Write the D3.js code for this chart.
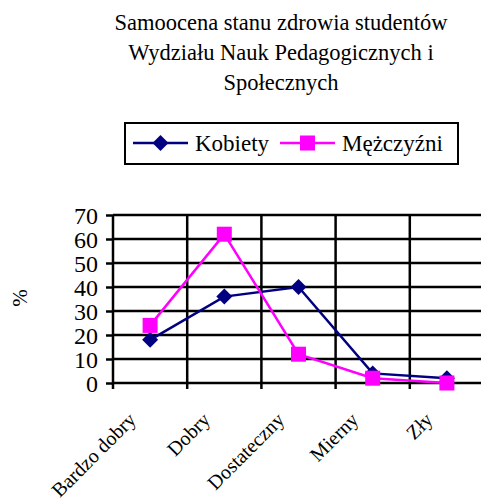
<!DOCTYPE html>
<html>
<head>
<meta charset="utf-8">
<script src="https://cdn.jsdelivr.net/npm/d3@7"></script>
<style>
  html, body { margin: 0; padding: 0; background: #fff; }
  svg text { font-family: "Liberation Serif", "Times New Roman", serif; }
</style>
</head>
<body>
<div id="chart"></div>
<script>
// data
var categories = ["Bardzo dobry", "Dobry", "Dostateczny", "Mierny", "Zły"];
var kobiety = [18, 36, 40, 4, 2];
var mezczyzni = [24, 62, 12, 2, 0];
var yTicks = [0, 10, 20, 30, 40, 50, 60, 70];
var titleLines = ["Samoocena stanu zdrowia studentów", "Wydziału Nauk Pedagogicznych i", "Społecznych"];

var series = [
    { name: "Kobiety", values: kobiety, color: "#000080", marker: "diamond" },
    { name: "Mężczyźni", values: mezczyzni, color: "#FF00FF", marker: "square" }
];

var W = 481, H = 501;
var plot = { left: 113, right: 484, top: 215, bottom: 383 };
var serif = "'Liberation Serif', 'Times New Roman', serif";

var svg = d3.select("#chart")
    .append("svg")
    .attr("width", W)
    .attr("height", H)
    .attr("font-family", serif);

var x = d3.scaleBand()
    .domain(categories)
    .range([plot.left, plot.right]);

var y = d3.scaleLinear()
    .domain([0, 70])
    .range([plot.bottom, plot.top]);

// title
svg.append("g")
    .selectAll("text")
    .data(titleLines)
    .enter().append("text")
    .attr("x", 281)
    .attr("y", (d, i) => 30 + i * 30)
    .attr("text-anchor", "middle")
    .attr("font-size", 22.5)
    .text(d => d);

// grid
var grid = svg.append("g").attr("stroke", "#000").attr("stroke-width", 2.5);
grid.selectAll("line.h")
    .data(yTicks)
    .enter().append("line")
    .attr("class", "h")
    .attr("x1", plot.left)
    .attr("x2", plot.right)
    .attr("y1", d => y(d))
    .attr("y2", d => y(d));

grid.selectAll("line.v")
    .data(categories)
    .enter().append("line")
    .attr("class", "v")
    .attr("x1", d => x(d))
    .attr("x2", d => x(d))
    .attr("y1", plot.top)
    .attr("y2", plot.bottom + 6);

// y axis
var yAxis = svg.append("g")
    .attr("transform", `translate(${plot.left},0)`)
    .call(d3.axisLeft(y).tickValues(yTicks).tickSize(7).tickPadding(8));
yAxis.attr("font-family", serif).attr("font-size", 24);
yAxis.select(".domain").remove();
yAxis.selectAll("line").attr("stroke", "#000").attr("stroke-width", 2.5);
yAxis.selectAll("text")
    .attr("fill", "#000")
    .attr("dy", "0.34em");

// x labels
svg.append("g")
    .selectAll("text")
    .data(categories)
    .enter().append("text")
    .attr("text-anchor", "end")
    .attr("font-size", 20)
    .attr("transform", d => `translate(${x(d) + x.bandwidth() / 2 - 13},${plot.bottom + 38}) rotate(-45)`)
    .text(d => d);

// y title
svg.append("text")
    .attr("transform", "translate(27,298) rotate(-90)")
    .attr("text-anchor", "middle")
    .attr("font-size", 21)
    .text("%");

// lines + markers
var line = d3.line()
    .x((d, i) => x(categories[i]) + x.bandwidth() / 2)
    .y(d => y(d));

function marker(g, type, color, cx, cy) {
    if (type === "diamond") {
        g.append("path")
            .attr("d", `M${cx},${cy - 8}L${cx + 8},${cy}L${cx},${cy + 8}L${cx - 8},${cy}Z`)
            .attr("fill", color);
    } else {
        g.append("rect")
            .attr("x", cx - 7.5).attr("y", cy - 7.5)
            .attr("width", 15).attr("height", 15)
            .attr("fill", color);
    }
}

series.forEach(function (s) {
    var g = svg.append("g");
    g.append("path")
        .datum(s.values)
        .attr("fill", "none")
        .attr("stroke", s.color)
        .attr("stroke-width", 2.5)
        .attr("d", line);
    s.values.forEach(function (v, i) {
        marker(g, s.marker, s.color, x(categories[i]) + x.bandwidth() / 2, y(v));
    });
});

// legend
var legend = svg.append("g");
legend.append("rect")
    .attr("x", 125).attr("y", 123)
    .attr("width", 333).attr("height", 41)
    .attr("fill", "#fff")
    .attr("stroke", "#000")
    .attr("stroke-width", 2);

var legendX = [133, 280];
series.forEach(function (s, i) {
    var lg = legend.append("g");
    var lx = legendX[i];
    lg.append("line")
        .attr("x1", lx).attr("x2", lx + 55)
        .attr("y1", 143).attr("y2", 143)
        .attr("stroke", s.color)
        .attr("stroke-width", 2.5);
    marker(lg, s.marker, s.color, lx + 27.5, 143);
    lg.append("text")
        .attr("x", lx + 62)
        .attr("y", 151)
        .attr("font-size", 23)
        .text(s.name);
});
</script>
</body>
</html>
